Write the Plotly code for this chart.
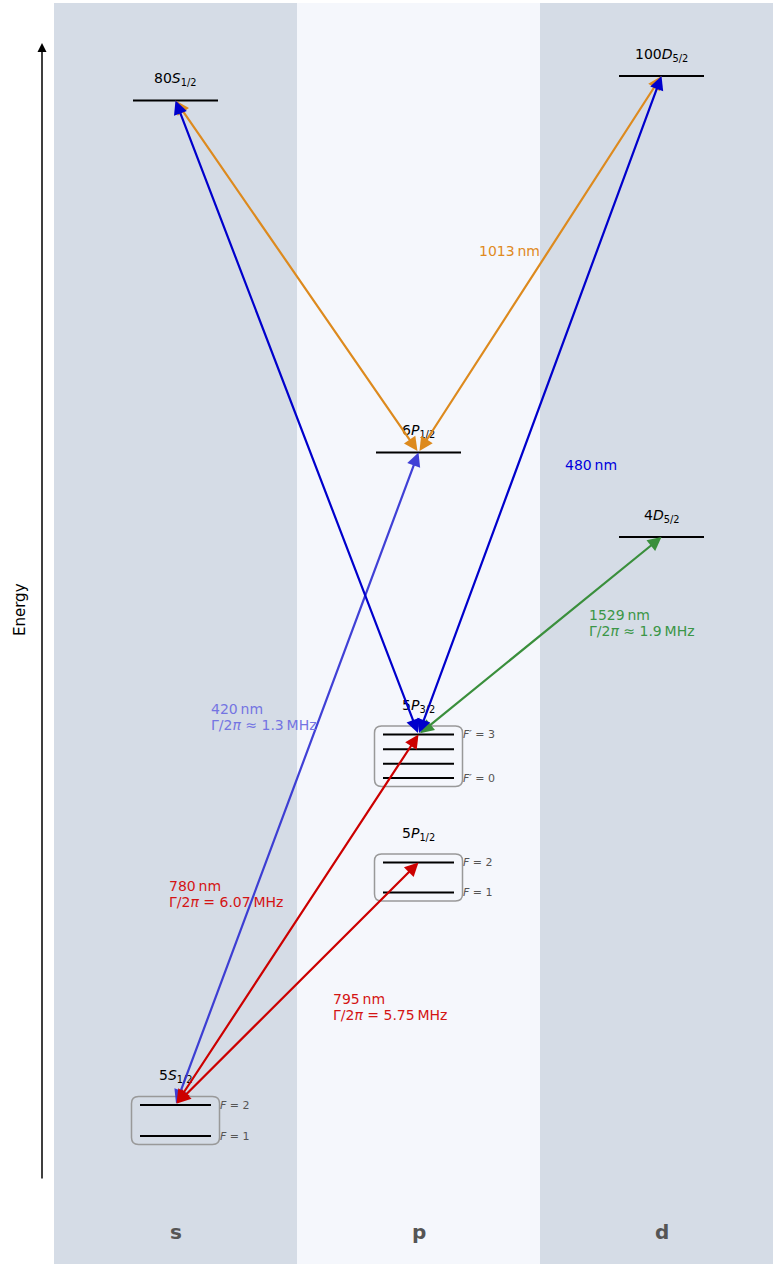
import plotly.graph_objects as go

FONT = "DejaVu Sans"

# ---------------------------------------------------------------- data
orbitals = ["s", "p", "d"]

# isolated levels (schematic energy, arbitrary units)
level_keys = ["80S", "100D", "6P", "4D"]
level_names = ["80<i>S</i><sub>1/2</sub>", "100<i>D</i><sub>5/2</sub>",
               "6<i>P</i><sub>1/2</sub>", "4<i>D</i><sub>5/2</sub>"]
level_cols = [0, 2, 1, 2]
level_energy = [11.635, 11.88, 8.115, 7.27]

# hyperfine manifolds
manifold_keys = ["5S", "5P12", "5P32"]
manifold_names = ["5<i>S</i><sub>1/2</sub>", "5<i>P</i><sub>1/2</sub>", "5<i>P</i><sub>3/2</sub>"]
manifold_cols = [0, 1, 1]
manifold_energies = [[1.59, 1.28], [4.015, 3.715], [5.295, 5.148, 5.003, 4.86]]
manifold_f_labels = [["<i>F</i> = 2", "<i>F</i> = 1"],
                     ["<i>F</i> = 2", "<i>F</i> = 1"],
                     ["<i>F′</i> = 3", "", "", "<i>F′</i> = 0"]]

# laser transitions
trans_from = ["5S", "5S", "5S", "5P32", "6P", "6P", "5P32", "5P32"]
trans_to = ["6P", "5P32", "5P12", "4D", "80S", "100D", "80S", "100D"]
trans_colors = ["rgba(45,45,210,0.9)", "#cc0000", "#cc0000", "#3a8f3c",
                "#dd8a1e", "#dd8a1e", "#0000cc", "#0000cc"]

# transition labels
label_wavelength = ["780", "795", "420", "1529", "480", "1013"]
label_gamma = ["= 6.07", "= 5.75", "≈ 1.3", "≈ 1.9", "", ""]
label_colors = ["#d41414", "#d41414", "#7474e2", "#3b9647", "#0000dd", "#e08a1e"]

# ---------------------------------------------------------------- geometry helpers
PX_X = 243.0   # pixels per column unit
PX_Y = 100.0   # pixels per energy unit
X0, X1 = -0.5, -0.5 + 719 / PX_X
Y0, Y1 = 0.0, 12.61

LEVEL_HW = 42.5 / PX_X
SUB_HW = 35.5 / PX_X
BOX_HW = 44.0 / PX_X
BOX_PAD = 8.5 / PX_Y


def rounded_box(x0, x1, y0, y1, r_px=7):
    rx, ry = r_px / PX_X, r_px / PX_Y
    return (f"M{x0 + rx},{y0} L{x1 - rx},{y0} Q{x1},{y0} {x1},{y0 + ry} "
            f"L{x1},{y1 - ry} Q{x1},{y1} {x1 - rx},{y1} L{x0 + rx},{y1} "
            f"Q{x0},{y1} {x0},{y1 - ry} L{x0},{y0 + ry} Q{x0},{y0} {x0 + rx},{y0} Z")


fig = go.Figure()
shapes = []
annotations = []

# column backgrounds
col_fill = ["#d5dce6", "#f5f7fc", "#d5dce6"]
for i, c in enumerate(orbitals):
    shapes.append(dict(type="rect", xref="x", yref="y", x0=i - 0.5, x1=i + 0.5,
                       y0=-1, y1=20, fillcolor=col_fill[i], line_width=0, layer="below"))
    annotations.append(dict(x=i, y=0.32, xref="x", yref="y", text=f"<b>{c}</b>",
                            showarrow=False, font=dict(family=FONT, size=20, color="#555555")))

endpoints = {}

# isolated levels
for key, name, col, e in zip(level_keys, level_names, level_cols, level_energy):
    fig.add_trace(go.Scatter(x=[col - LEVEL_HW, col + LEVEL_HW], y=[e, e], mode="lines",
                             line=dict(color="black", width=2), hoverinfo="skip",
                             showlegend=False))
    annotations.append(dict(x=col, y=e + 0.215, xref="x", yref="y", text=name,
                            showarrow=False, yanchor="middle",
                            font=dict(family=FONT, size=14, color="black")))
    endpoints[key] = (col, e)

# hyperfine manifolds in rounded boxes
F_DX = -2 / PX_X
for key, name, col, es, fl in zip(manifold_keys, manifold_names, manifold_cols,
                                  manifold_energies, manifold_f_labels):
    top, bot = max(es), min(es)
    shapes.append(dict(type="path", xref="x", yref="y",
                       path=rounded_box(col - BOX_HW, col + BOX_HW, bot - BOX_PAD, top + BOX_PAD),
                       line=dict(color="#999999", width=1.5), fillcolor="rgba(0,0,0,0)"))
    for e, lab in zip(es, fl):
        fig.add_trace(go.Scatter(x=[col - SUB_HW, col + SUB_HW], y=[e, e], mode="lines",
                                 line=dict(color="black", width=2), hoverinfo="skip",
                                 showlegend=False))
        if lab:
            annotations.append(dict(x=col + BOX_HW + F_DX, y=e, xref="x", yref="y", text=lab,
                                    showarrow=False, xanchor="left", yanchor="middle",
                                    font=dict(family=FONT, size=11, color="#555555")))
    annotations.append(dict(x=col, y=top + 0.29, xref="x", yref="y", text=name,
                            showarrow=False, yanchor="middle",
                            font=dict(family=FONT, size=14, color="black")))
    endpoints[key] = (col, top)

# double-headed transition arrows
for a, b, color in zip(trans_from, trans_to, trans_colors):
    (xa, ya), (xb, yb) = endpoints[a], endpoints[b]
    annotations.append(dict(x=xb, y=yb, ax=xa, ay=ya, xref="x", yref="y",
                            axref="x", ayref="y", text="", showarrow=True,
                            arrowside="end+start", arrowhead=2, startarrowhead=2,
                            arrowsize=1.25, startarrowsize=1.25, arrowwidth=2.2,
                            arrowcolor=color))

# transition labels (left edge x, first-line energy)
L_DX = -2 / PX_X
label_pos = [(-0.025, 3.78), (0.650, 2.65), (0.148, 5.55), (1.70, 6.49),
             (1.601, 7.99), (1.251, 10.13)]
for wl, g, color, (lx, ly) in zip(label_wavelength, label_gamma, label_colors, label_pos):
    annotations.append(dict(x=lx + L_DX, y=ly, xref="x", yref="y", text=f"{wl}\u2009nm",
                            showarrow=False, xanchor="left", yanchor="middle",
                            font=dict(family=FONT, size=14, color=color)))
    if g:
        annotations.append(dict(x=lx + L_DX, y=ly - 0.16, xref="x", yref="y",
                                text=f"Γ/2<i>π</i> {g}\u2009MHz",
                                showarrow=False, xanchor="left", yanchor="middle",
                                font=dict(family=FONT, size=14, color=color)))

# energy axis arrow and label
annotations.append(dict(x=-12 / 719, y=12.21, xref="paper", yref="y", ax=0, ay=1137,
                        axref="pixel", ayref="pixel", text="", showarrow=True,
                        arrowhead=2, arrowsize=1.2, arrowwidth=1.5, arrowcolor="black"))
annotations.append(dict(x=-45 / 719, y=6.54, xref="paper", yref="y", text="Energy",
                        textangle=-90, showarrow=False,
                        font=dict(family=FONT, size=15, color="black")))

fig.update_layout(
    width=773, height=1264,
    margin=dict(l=54, r=0, t=3, b=0),
    paper_bgcolor="white", plot_bgcolor="white",
    xaxis=dict(range=[X0, X1], visible=False, fixedrange=True),
    yaxis=dict(range=[Y0, Y1], visible=False, fixedrange=True),
    shapes=shapes, annotations=annotations, showlegend=False,
)

fig.write_html("out.html")
